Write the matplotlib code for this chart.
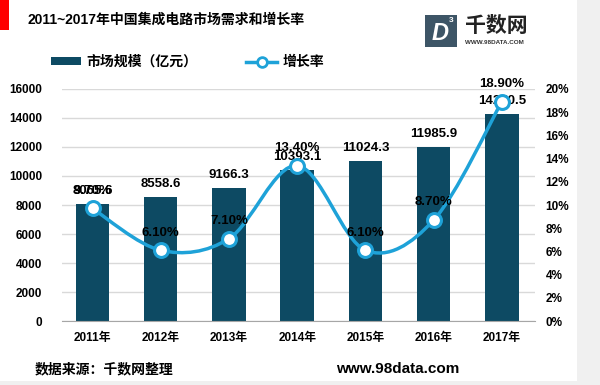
import matplotlib
matplotlib.use('Agg')
import matplotlib.pyplot as plt
import numpy as np
from matplotlib.path import Path
from matplotlib.patches import PathPatch, Rectangle
from matplotlib.lines import Line2D

plt.rcParams['font.family'] = ['Liberation Sans', 'Noto Sans CJK SC']
plt.rcParams['font.weight'] = 'bold'

years = ['2011年', '2012年', '2013年', '2014年', '2015年', '2016年', '2017年']
market = [8065.6, 8558.6, 9166.3, 10393.1, 11024.3, 11985.9, 14250.5]
growth = [9.70, 6.10, 7.10, 13.40, 6.10, 8.70, 18.90]

bar_color = '#0d4a63'
line_color = '#1ea2d8'

fig = plt.figure(figsize=(6, 3.85), dpi=100)
fig.patch.set_facecolor('#f0f0f0')
fig.add_artist(Rectangle((0, 4 / 385), 577 / 600, 1 - 4 / 385, transform=fig.transFigure,
                         facecolor='white', edgecolor='none', zorder=-10))

ax1 = fig.add_axes([0.103, 0.166, 0.788, 0.603])
ax1.set_facecolor('none')
x = np.arange(len(years))
ax1.bar(x, market, width=0.49, color=bar_color, zorder=2)
ax1.set_ylim(0, 16000)
ax1.set_xlim(-0.45, 6.48)
ax1.set_yticks(np.arange(0, 16001, 2000))
ax1.yaxis.grid(True, color='#d9d9d9', linewidth=1, zorder=0)
ax1.set_axisbelow(True)
for s in ['top', 'right', 'left']:
    ax1.spines[s].set_visible(False)
ax1.spines['bottom'].set_color('#a6a6a6')
ax1.tick_params(axis='y', length=0, labelsize=8.5, pad=14)
ax1.tick_params(axis='x', length=0, labelsize=8.5, pad=8)
ax1.set_xticks(x)
ax1.set_xticklabels(years)
for xi, v in zip(x, market):
    ax1.text(xi, v + 500, f'{v:.1f}', ha='center', va='bottom', fontsize=9.5, zorder=5)

ax2 = ax1.twinx()
ax2.set_ylim(0, 20)
ax2.set_yticks(np.arange(0, 21, 2))
ax2.set_yticklabels([f'{t}%' for t in range(0, 21, 2)])
for s in ['top', 'right', 'left', 'bottom']:
    ax2.spines[s].set_visible(False)
ax2.tick_params(axis='y', length=0, labelsize=8.5, pad=8)

# smoothed line (Catmull-Rom as cubic Bezier segments)
pts = np.column_stack([x, growth]).astype(float)
ext = np.vstack([pts[0], pts, pts[-1]])
verts = [tuple(pts[0])]
codes = [Path.MOVETO]
for i in range(len(pts) - 1):
    p0, p1, p2, p3 = ext[i], ext[i + 1], ext[i + 2], ext[i + 3]
    c1 = p1 + (p2 - p0) / 6
    c2 = p2 - (p3 - p1) / 6
    verts += [tuple(c1), tuple(c2), tuple(p2)]
    codes += [Path.CURVE4] * 3
ax2.add_patch(PathPatch(Path(verts, codes), facecolor='none', edgecolor=line_color,
                        linewidth=2.5, zorder=3))
ax2.plot(x, growth, linestyle='none', marker='o', markersize=10, markerfacecolor='white',
         markeredgecolor=line_color, markeredgewidth=2.2, zorder=4)
for xi, g in zip(x, growth):
    ax2.text(xi, g + 1.0, f'{g:.2f}%', ha='center', va='bottom', fontsize=9.5, zorder=5)

# title
fig.add_artist(Rectangle((0, 1 - 30 / 385), 9 / 600, 30 / 385, transform=fig.transFigure,
                         facecolor='#ff0000', edgecolor='none'))
fig.text(27 / 600, 1 - 20 / 385, '2011~2017年中国集成电路市场需求和增长率', fontsize=10,
         fontweight='bold', va='center', ha='left')

# legend
handles = [Rectangle((0, 0), 1, 1, facecolor=bar_color),
           Line2D([0], [0], color=line_color, linewidth=2.5, marker='o', markersize=7,
                  markerfacecolor='white', markeredgecolor=line_color, markeredgewidth=2)]
fig.legend(handles, ['市场规模（亿元）', '增长率'], loc='center left',
           bbox_to_anchor=(38 / 600, 1 - 62 / 385), ncol=2, frameon=False, fontsize=10,
           handlelength=2.2, handleheight=0.5, columnspacing=3.5, handletextpad=0.4)

# logo
fig.add_artist(Rectangle((425 / 600, 1 - 47 / 385), 32 / 600, 32 / 385, transform=fig.transFigure,
                         facecolor='#3d5566', edgecolor='none'))
fig.text(440 / 600, 1 - 34 / 385, 'D', color='white', fontsize=17, fontstyle='italic',
         fontweight='bold', ha='center', va='center')
fig.text(451 / 600, 1 - 20 / 385, '3', color='white', fontsize=6, ha='center', va='center')
fig.text(465 / 600, 1 - 26 / 385, '千数网', fontsize=15, fontweight='bold', ha='left',
         va='center', color='#222222')
fig.text(465 / 600, 1 - 42 / 385, 'WWW.98DATA.COM', fontsize=4.5, ha='left', va='center',
         color='#333333')

# footer
fig.text(35 / 600, 1 - 369 / 385, '数据来源：千数网整理', fontsize=10, fontweight='bold',
         ha='left', va='center')
fig.text(459 / 600, 1 - 369 / 385, 'www.98data.com', fontsize=11, fontweight='bold',
         ha='right', va='center')

fig.savefig('out.png', dpi=100, facecolor=fig.get_facecolor())
